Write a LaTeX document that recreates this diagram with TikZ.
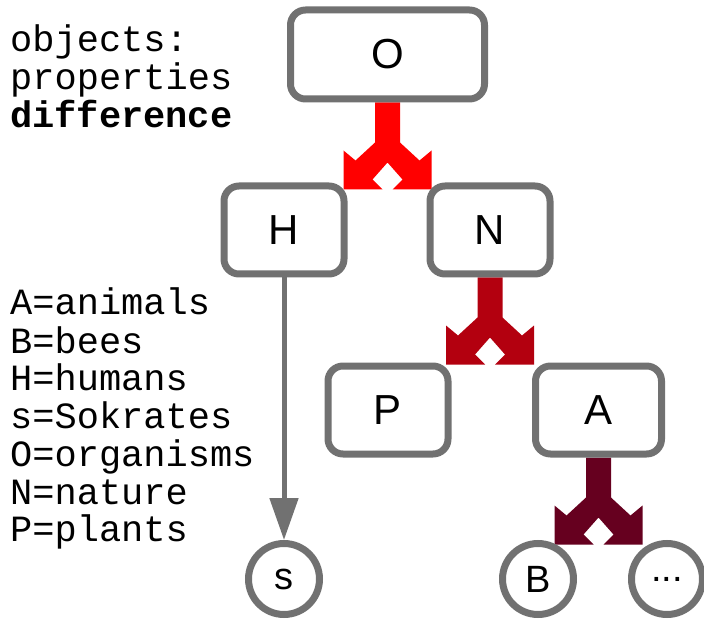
\documentclass[tikz,border=0pt]{standalone}
\usepackage{fontspec}
\setmainfont{Liberation Sans}
\newfontfamily\legendfont{Liberation Mono}
\usetikzlibrary{arrows.meta,backgrounds}
\definecolor{boxdraw}{HTML}{717171}
\definecolor{forkone}{HTML}{FF0000}
\definecolor{forktwo}{HTML}{B3000F}
\definecolor{forkthree}{HTML}{66001F}
\tikzset{
  concept box/.style={
    rectangle,
    rounded corners=15pt,
    draw=boxdraw,
    fill=white,
    line width=7pt,
    minimum width=120pt,
    minimum height=88pt,
    inner sep=0pt,
    font=\fontsize{42}{42}\selectfont
  },
  instance/.style={
    circle,
    draw=boxdraw,
    fill=white,
    line width=7pt,
    minimum size=71pt,
    inner sep=0pt,
    font=\fontsize{38}{38}\selectfont
  },
  member of/.style={
    draw=boxdraw,
    line width=5pt,
    -{Triangle[length=42pt,width=28pt]}
  },
  legend/.style={
    anchor=base west,
    inner sep=0pt,
    font=\legendfont\fontsize{37}{37}\selectfont
  }
}
\newcommand{\forkbelow}[2]{%
  \begin{scope}[on background layer,shift={(#1.south)}]
    \fill[#2] (-12.5,0) -- (12.5,0) -- (12.5,40) -- (32,58) -- (44,48)
      -- (44,87) -- (5,87) -- (15,77) -- (0,60) -- (-15,77) -- (-5,87)
      -- (-44,87) -- (-44,48) -- (-32,58) -- (-12.5,40) -- cycle;
  \end{scope}
}

\begin{document}
\begin{tikzpicture}[x=1pt,y=-1pt]
  \useasboundingbox (0,0) rectangle (704,620);

  \node[concept box,minimum width=194pt,minimum height=89pt] (O) at (387.5,54.5) {O};
  \node[concept box] (H) at (284,230) {H};
  \node[concept box] (N) at (490,230) {N};
  \node[concept box] (P) at (388,410) {P};
  \node[concept box,minimum width=126pt] (A) at (598.5,410) {A};

  \node[instance] (s) at (284,579) {s};
  \node[instance] (B) at (538,579) {B};
  \node[instance] (more) at (667,579) {...};

  \forkbelow{O}{forkone}
  \forkbelow{N}{forktwo}
  \forkbelow{A}{forkthree}
  \draw[member of] (H.south) -- (s);

  \node[legend] (objects) at (10,52) {objects:};
  \node[legend] (properties) at (10,90) {properties};
  \node[legend,font=\legendfont\bfseries\fontsize{37}{37}\selectfont] (difference) at (10,128) {difference};

  \node[legend] (keyA) at (10,315) {A=animals};
  \node[legend] (keyB) at (10,353) {B=bees};
  \node[legend] (keyH) at (10,390) {H=humans};
  \node[legend] (keys) at (10,428) {s=Sokrates};
  \node[legend] (keyO) at (10,466) {O=organisms};
  \node[legend] (keyN) at (10,504) {N=nature};
  \node[legend] (keyP) at (10,541) {P=plants};
\end{tikzpicture}
\end{document}
